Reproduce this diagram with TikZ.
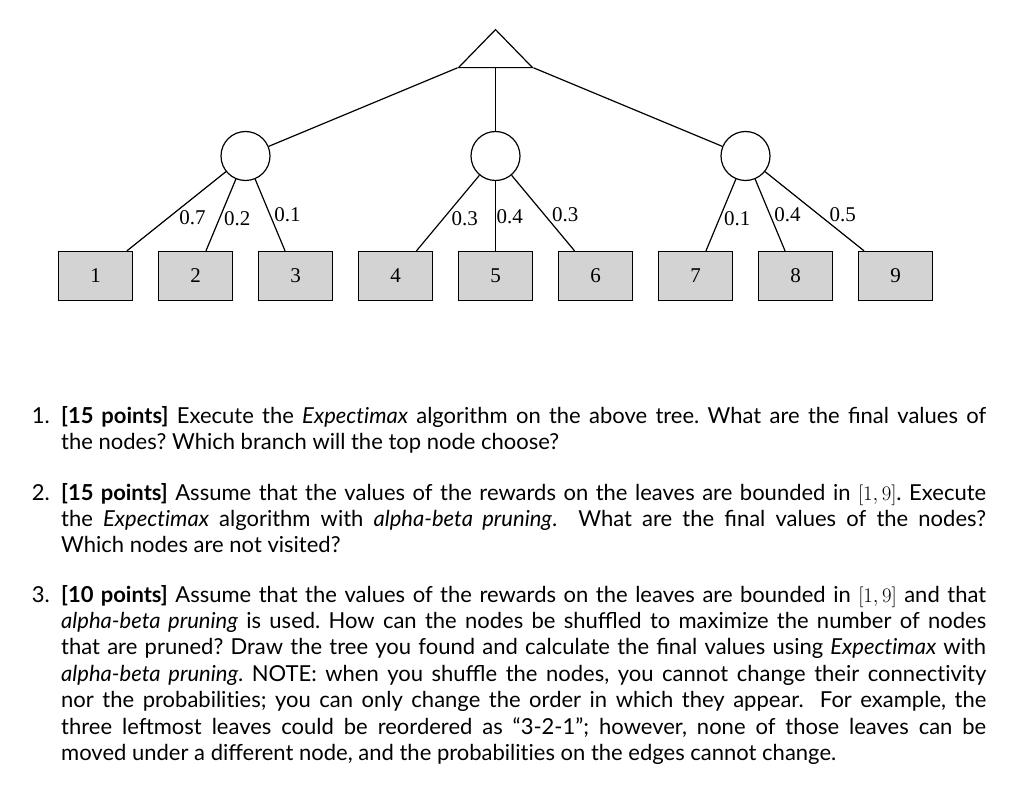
\documentclass[tikz,border=0pt]{standalone}
\usepackage[no-math]{fontspec}
\setmainfont{Lato}
\newfontfamily\treefont{Liberation Serif}
\usepackage{xcolor}
\usetikzlibrary{shapes.geometric, calc, math}
\definecolor{leafgray}{RGB}{211,211,211}

\begin{document}
\begin{tikzpicture}[x=1pt, y=-1pt,
  maxnode/.style={draw, line width=1.2pt, isosceles triangle, shape border rotate=90,
    isosceles triangle stretches, minimum width=74pt, minimum height=38pt, inner sep=0pt},
  chancenode/.style={draw, circle, line width=1.2pt, minimum size=49pt, inner sep=0pt},
  leafnode/.style={draw, fill=leafgray, line width=1.3pt, minimum width=74pt,
    minimum height=49pt, inner sep=0pt, font=\treefont\fontsize{21}{24}\selectfont},
  prob/.style={inner sep=0.5pt, font=\treefont\fontsize{21}{24}\selectfont},
  branch/.style={line width=1.2pt},
  question/.style={anchor=base west, text width=925pt, align=justify, inner sep=0pt,
    font=\fontsize{22}{26.4}\selectfont,
    execute at begin node={\frenchspacing\hyphenpenalty=10000\exhyphenpenalty=10000}},
  qnum/.style={anchor=base east, inner sep=0pt, font=\fontsize{22}{26.4}\selectfont}]
\tikzmath{
\dx=100;
\cy=156;
\ly=276;
}
\useasboundingbox (0,0) rectangle (1024,802);

%the tree:
\node[maxnode] (top) at (495.5,52) {};
\foreach \x [count=\i] in {245.5,495.5,745.5}
  \node[chancenode] (c\i) at (\x,\cy) {};
\foreach \i in {1,...,9}
  \node[leafnode] (l\i) at ({95.5+\dx*(\i-1)},\ly) {\i};

\foreach \i in {1,2,3}
  \draw[branch] (top) -- (c\i);
\foreach \c/\l/\pr/\ps/\an in {1/1/0.7/0.482/north west, 1/2/0.2/0.430/north west,
    1/3/0.1/0.605/south west, 2/4/0.3/0.459/north west, 2/5/0.4/0.506/west,
    2/6/0.3/0.625/south west, 3/7/0.1/0.430/north west, 3/8/0.4/0.605/south west,
    3/9/0.5/0.641/south west}
  \draw[branch] (c\c) -- (l\l) node[prob, pos=\ps, anchor=\an] (p\l) {\pr};

%the questions:
\node[question] (q1) at (61,423) {\textbf{[15 points]} Execute the \textit{Expect\kern0pt imax} algorithm on the above tree. What are the final values of\linebreak the nodes? Which branch will the top node choose?};
\node[qnum] at ($(q1.base west)+(-11,0)$) {1.};

\node[question] (q2) at (61,500) {\textbf{[15 points]} Assume that the values of the rewards on the leaves are bounded in $[1,9]$. Execute\linebreak the \textit{Expect\kern0pt imax} algorithm with \textit{alpha-beta pruning}.\spacefactor3000{} What are the final values of the nodes?\linebreak Which nodes are not visited?};
\node[qnum] at ($(q2.base west)+(-11,0)$) {2.};

\node[question] (q3) at (61,602) {\textbf{[10 points]} Assume that the values of the rewards on the leaves are bounded in $[1,9]$ and that\linebreak \textit{alpha-beta pruning} is used. How can the nodes be shuffled to maximize the number of nodes\linebreak that are pruned? Draw the tree you found and calculate the final values using \textit{Expect\kern0pt imax} with\linebreak \textit{alpha-beta pruning}. NOTE: when you shuffle the nodes, you cannot change their connect\kern0pt ivity\linebreak nor the probabilit\kern0pt ies; you can only change the order in which they appear.\spacefactor3000{} For example, the\linebreak three leftmost leaves could be reordered as “3-2-1”; however, none of those leaves can be\linebreak moved under a different node, and the probabilit\kern0pt ies on the edges cannot change.};
\node[qnum] at ($(q3.base west)+(-11,0)$) {3.};
\end{tikzpicture}
\end{document}
